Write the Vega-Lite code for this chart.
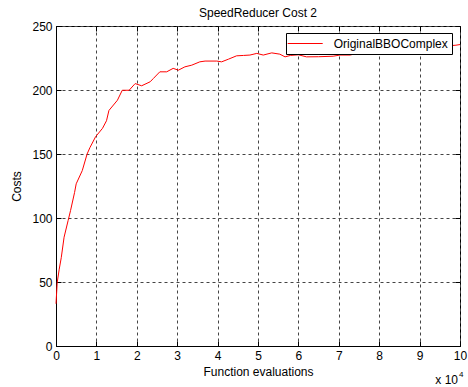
{
  "$schema": "https://vega.github.io/schema/vega-lite/v6.json",
  "width": 404,
  "height": 320,
  "autosize": "none",
  "padding": {"left": 56, "top": 26, "right": 8, "bottom": 41},
  "background": "white",
  "config": {
    "font": "Liberation Sans",
    "view": {"stroke": "#000", "strokeWidth": 1},
    "axis": {
      "labelFont": "Liberation Sans",
      "labelFontSize": 12,
      "labelColor": "#000",
      "titleFont": "Liberation Sans",
      "titleFontSize": 12,
      "titleFontWeight": "normal",
      "titleColor": "#000",
      "domainColor": "#000",
      "tickColor": "#000",
      "gridColor": "#444",
      "gridDash": [3, 3],
      "gridWidth": 1,
      "gridOpacity": 1
    }
  },
  "title": {
    "text": "SpeedReducer Cost 2",
    "font": "Liberation Sans",
    "fontSize": 12,
    "fontWeight": "normal",
    "color": "#000",
    "offset": 0
  },
  "data": {
    "values": [
      {"evaluations": 0, "cost": 33, "series": "OriginalBBOComplex"},
      {"evaluations": 300, "cost": 49.6, "series": "OriginalBBOComplex"},
      {"evaluations": 800, "cost": 60, "series": "OriginalBBOComplex"},
      {"evaluations": 1300, "cost": 69, "series": "OriginalBBOComplex"},
      {"evaluations": 2000, "cost": 85, "series": "OriginalBBOComplex"},
      {"evaluations": 3000, "cost": 98, "series": "OriginalBBOComplex"},
      {"evaluations": 3600, "cost": 105.8, "series": "OriginalBBOComplex"},
      {"evaluations": 4600, "cost": 120, "series": "OriginalBBOComplex"},
      {"evaluations": 5000, "cost": 126.7, "series": "OriginalBBOComplex"},
      {"evaluations": 6500, "cost": 137, "series": "OriginalBBOComplex"},
      {"evaluations": 7700, "cost": 150, "series": "OriginalBBOComplex"},
      {"evaluations": 8400, "cost": 155, "series": "OriginalBBOComplex"},
      {"evaluations": 9800, "cost": 163.5, "series": "OriginalBBOComplex"},
      {"evaluations": 11500, "cost": 170, "series": "OriginalBBOComplex"},
      {"evaluations": 12500, "cost": 176, "series": "OriginalBBOComplex"},
      {"evaluations": 13100, "cost": 184, "series": "OriginalBBOComplex"},
      {"evaluations": 15200, "cost": 192, "series": "OriginalBBOComplex"},
      {"evaluations": 16400, "cost": 199.8, "series": "OriginalBBOComplex"},
      {"evaluations": 18100, "cost": 199.8, "series": "OriginalBBOComplex"},
      {"evaluations": 19300, "cost": 204, "series": "OriginalBBOComplex"},
      {"evaluations": 19600, "cost": 205, "series": "OriginalBBOComplex"},
      {"evaluations": 21200, "cost": 203.3, "series": "OriginalBBOComplex"},
      {"evaluations": 23300, "cost": 206.4, "series": "OriginalBBOComplex"},
      {"evaluations": 24100, "cost": 209, "series": "OriginalBBOComplex"},
      {"evaluations": 25700, "cost": 214.2, "series": "OriginalBBOComplex"},
      {"evaluations": 27400, "cost": 214.2, "series": "OriginalBBOComplex"},
      {"evaluations": 29000, "cost": 216.9, "series": "OriginalBBOComplex"},
      {"evaluations": 30300, "cost": 215.5, "series": "OriginalBBOComplex"},
      {"evaluations": 31900, "cost": 218.1, "series": "OriginalBBOComplex"},
      {"evaluations": 33600, "cost": 219.4, "series": "OriginalBBOComplex"},
      {"evaluations": 35600, "cost": 222, "series": "OriginalBBOComplex"},
      {"evaluations": 36900, "cost": 222.6, "series": "OriginalBBOComplex"},
      {"evaluations": 39800, "cost": 222.6, "series": "OriginalBBOComplex"},
      {"evaluations": 41000, "cost": 222, "series": "OriginalBBOComplex"},
      {"evaluations": 42700, "cost": 224.1, "series": "OriginalBBOComplex"},
      {"evaluations": 44700, "cost": 226.7, "series": "OriginalBBOComplex"},
      {"evaluations": 46400, "cost": 227, "series": "OriginalBBOComplex"},
      {"evaluations": 48000, "cost": 227.3, "series": "OriginalBBOComplex"},
      {"evaluations": 49700, "cost": 228.6, "series": "OriginalBBOComplex"},
      {"evaluations": 51300, "cost": 227.3, "series": "OriginalBBOComplex"},
      {"evaluations": 53400, "cost": 229, "series": "OriginalBBOComplex"},
      {"evaluations": 55400, "cost": 228, "series": "OriginalBBOComplex"},
      {"evaluations": 56700, "cost": 225.9, "series": "OriginalBBOComplex"},
      {"evaluations": 58000, "cost": 227, "series": "OriginalBBOComplex"},
      {"evaluations": 60000, "cost": 227.5, "series": "OriginalBBOComplex"},
      {"evaluations": 62000, "cost": 225.9, "series": "OriginalBBOComplex"},
      {"evaluations": 65000, "cost": 226, "series": "OriginalBBOComplex"},
      {"evaluations": 68600, "cost": 226.4, "series": "OriginalBBOComplex"},
      {"evaluations": 70300, "cost": 227.3, "series": "OriginalBBOComplex"},
      {"evaluations": 72800, "cost": 227.3, "series": "OriginalBBOComplex"},
      {"evaluations": 74400, "cost": 228.6, "series": "OriginalBBOComplex"},
      {"evaluations": 77000, "cost": 229.5, "series": "OriginalBBOComplex"},
      {"evaluations": 80000, "cost": 230, "series": "OriginalBBOComplex"},
      {"evaluations": 85000, "cost": 231.5, "series": "OriginalBBOComplex"},
      {"evaluations": 90000, "cost": 232.5, "series": "OriginalBBOComplex"},
      {"evaluations": 95000, "cost": 234, "series": "OriginalBBOComplex"},
      {"evaluations": 99000, "cost": 235, "series": "OriginalBBOComplex"},
      {"evaluations": 100000, "cost": 235.5, "series": "OriginalBBOComplex"}
    ]
  },
  "resolve": {"axis": {"x": "independent", "y": "independent"}},
  "layer": [
    {
      "mark": {"type": "line", "strokeWidth": 1, "interpolate": "linear"},
      "encoding": {
        "x": {
          "field": "evaluations",
          "type": "quantitative",
          "scale": {"domain": [0, 100000], "nice": false, "zero": false},
          "axis": {
            "title": "Function evaluations",
            "values": [0, 10000, 20000, 30000, 40000, 50000, 60000, 70000, 80000, 90000, 100000],
            "labelExpr": "format(datum.value / 10000, 'd')",
            "grid": true,
            "tickSize": -5,
            "labelPadding": 9,
            "titlePadding": 5,
            "labelFlush": false
          }
        },
        "y": {
          "field": "cost",
          "type": "quantitative",
          "scale": {"domain": [0, 250], "nice": false},
          "axis": {
            "title": "Costs",
            "values": [0, 50, 100, 150, 200, 250],
            "grid": true,
            "tickSize": -5,
            "labelPadding": 9,
            "titlePadding": 8,
            "labelFlush": false
          }
        },
        "color": {
          "field": "series",
          "type": "nominal",
          "scale": {"domain": ["OriginalBBOComplex"], "range": ["#ff0000"]},
          "legend": {
            "title": null,
            "orient": "none",
            "legendX": 230,
            "legendY": 7,
            "fillColor": "white",
            "strokeColor": "#000",
            "padding": 4,
            "symbolType": "M-3,0H3",
            "symbolSize": 136,
            "symbolStrokeWidth": 1,
            "symbolOffset": 8.7,
            "labelOffset": 22,
            "labelFont": "Liberation Sans",
            "labelFontSize": 12,
            "labelColor": "#000",
            "labelLimit": 300
          }
        }
      }
    },
    {
      "data": {"values": [{"label": "x 10"}]},
      "mark": {"type": "text", "align": "right", "baseline": "alphabetic", "dx": -2, "dy": 38, "fontSize": 12, "font": "Liberation Sans", "color": "#000"},
      "encoding": {
        "text": {"field": "label"},
        "x": {
          "datum": 100000,
          "type": "quantitative",
          "axis": {
            "orient": "top",
            "values": [0, 10000, 20000, 30000, 40000, 50000, 60000, 70000, 80000, 90000, 100000],
            "labels": false,
            "grid": false,
            "domain": false,
            "tickSize": -5,
            "title": null
          }
        },
        "y": {
          "datum": 0,
          "type": "quantitative",
          "axis": {
            "orient": "right",
            "values": [0, 50, 100, 150, 200, 250],
            "labels": false,
            "grid": false,
            "domain": false,
            "tickSize": -5,
            "title": null
          }
        }
      }
    },
    {
      "data": {"values": [{"label": "4"}]},
      "mark": {"type": "text", "align": "left", "baseline": "alphabetic", "dx": -1, "dy": 31, "fontSize": 8, "font": "Liberation Sans", "color": "#000"},
      "encoding": {
        "text": {"field": "label"},
        "x": {"datum": 100000, "type": "quantitative", "axis": null},
        "y": {"datum": 0, "type": "quantitative", "axis": null}
      }
    }
  ]
}
